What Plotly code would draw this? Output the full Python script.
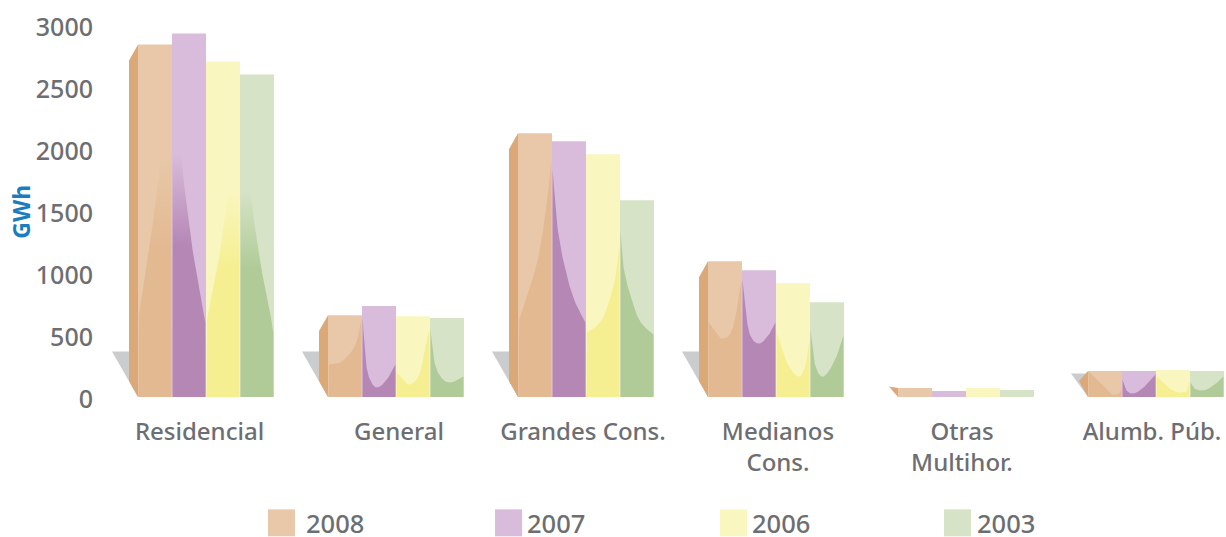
import numpy as np
import plotly.graph_objects as go

categories = ["Residencial", "General", "Grandes Cons.", "Medianos<br>Cons.", "Otras<br>Multihor.", "Alumb. Púb."]
years = ["2008", "2007", "2006", "2003"]
v2008 = [2847, 661, 2129, 1097, 73, 210]
v2007 = [2935, 734, 2065, 1024, 48, 210]
v2006 = [2710, 653, 1960, 919, 73, 218]
v2003 = [2605, 637, 1589, 766, 56, 210]
y_ticks = [0, 500, 1000, 1500, 2000, 2500, 3000]

# level of the darker lower area inside each bar: (fraction across bar, GWh)
wave2008 = [
    [(0, 641), (.37, 1270), (.72, 1915), (1, 1950)],
    [(0, 262), (.35, 278), (.74, 383), (.9, 488), (1, 625)],
    [(0, 609), (.33, 870), (.63, 1165), (.88, 1600), (1, 1900)],
    [(0, 601), (.41, 472), (.72, 544), (.93, 810), (1, 948)],
    None,
    [(0, 206), (.4, 100), (.75, 20), (.9, 20), (1, 60)],
]
wave2007 = [
    [(0, 1970), (.25, 1970), (.3, 1834), (.55, 1294), (.8, 891), (1, 600)],
    [(0, 641), (.05, 440), (.15, 198), (.44, 77), (.74, 141), (1, 262)],
    [(0, 1835), (.12, 1431), (.32, 1109), (.62, 810), (1, 601)],
    [(0, 948), (.08, 730), (.2, 520), (.5, 431), (.8, 504), (1, 601)],
    None,
    [(0, 141), (.1, 60), (.3, 28), (.6, 68), (1, 181)],
]
wave2006 = [
    [(0, 610), (.37, 1108), (.72, 1673), (1, 1673)],
    [(0, 198), (.38, 101), (.72, 198), (.9, 440), (1, 544)],
    [(0, 520), (.25, 560), (.5, 640), (.75, 826), (.9, 1000), (1, 1246)],
    [(0, 520), (.31, 278), (.69, 165), (.9, 278), (1, 464)],
    None,
    [(0, 165), (.35, 77), (.68, 36), (.9, 44), (1, 125)],
]
wave2003 = [
    [(0, 1673), (.28, 1673), (.34, 1560), (.6, 1085), (.85, 762), (1, 512)],
    [(0, 544), (.1, 302), (.3, 165), (.59, 117), (1, 165)],
    [(0, 1351), (.07, 1085), (.27, 843), (.56, 625), (1, 504)],
    [(0, 544), (.12, 278), (.36, 165), (.75, 302), (1, 496)],
    None,
    [(0, 117), (.12, 68), (.35, 52), (.7, 93), (1, 165)],
]

series = [v2008, v2007, v2006, v2003]
waves = [wave2008, wave2007, wave2006, wave2003]
light = ["#E8C8A8", "#D9BCDB", "#FAF6C0", "#D6E3C7"]
dark = ["#E3B992", "#B587B5", "#F5EF91", "#B0CB98"]
dark_rgb = ["227,185,146", "181,135,181", "245,239,145", "176,203,152"]
TEXT = "#6D6E71"
FONT = "Noto Sans"

W, H = 1226, 537
PLOT_LEFT, PLOT_RIGHT, PLOT_TOP, PLOT_BOTTOM = 111, 1226, 20, 397.5
L, R, T, B = PLOT_LEFT, W - PLOT_RIGHT, PLOT_TOP, H - PLOT_BOTTOM
CAT_PX = 190.0
PX_Y = 0.124  # px per GWh
x_range = [-0.5, -0.5 + (PLOT_RIGHT - PLOT_LEFT) / CAT_PX]
y_range = [0, (PLOT_BOTTOM - PLOT_TOP) / PX_Y]
BARGAP = 54 / 190
GROUP = 1 - BARGAP
SLOT = GROUP / 4


def px2paper_x(px):
    return (px - PLOT_LEFT) / (PLOT_RIGHT - PLOT_LEFT)


def px2paper_y(py):
    return (PLOT_BOTTOM - py) / (PLOT_BOTTOM - PLOT_TOP)


def smooth(pts, n=80):
    xs = np.array([p[0] for p in pts], float)
    ys = np.array([p[1] for p in pts], float)
    h = np.diff(xs)
    s = np.diff(ys) / h
    d = np.zeros_like(ys)
    d[0], d[-1] = s[0], s[-1]
    for k in range(1, len(xs) - 1):
        if s[k - 1] * s[k] > 0:
            c = (ys[k + 1] - ys[k - 1]) / (xs[k + 1] - xs[k - 1])
            d[k] = np.sign(c) * min(abs(c), 3 * min(abs(s[k - 1]), abs(s[k])))
    u = np.linspace(0, 1, n)
    idx = np.clip(np.searchsorted(xs, u, side="right") - 1, 0, len(h) - 1)
    t = (u - xs[idx]) / h[idx]
    y = ((2*t**3 - 3*t**2 + 1) * ys[idx] + (t**3 - 2*t**2 + t) * h[idx] * d[idx]
         + (-2*t**3 + 3*t**2) * ys[idx + 1] + (t**3 - t**2) * h[idx] * d[idx + 1])
    return u, y


fig = go.Figure()
for j, year in enumerate(years):
    fig.add_trace(go.Bar(
        x=list(range(len(categories))), y=series[j], name=year,
        marker=dict(color=light[j], line=dict(width=0)), showlegend=False,
    ))

inset = 0.6 / CAT_PX
for j in range(4):
    for i, wave in enumerate(waves[j]):
        if wave is None:
            continue
        u, lev = smooth(wave)
        lev = np.minimum(lev, series[j][i])
        x0 = i - GROUP / 2 + j * SLOT
        xs = x0 + inset + u * (SLOT - 2 * inset)
        xpoly = [xs[0]] + list(xs) + [xs[-1]]
        ypoly = [0] + list(lev) + [0]
        fill = dict(fillcolor=dark[j])
        if i == 0:
            fill = dict(fillgradient=dict(
                type="vertical",
                colorscale=[[0, dark[j]], [0.62, dark[j]], [1, f"rgba({dark_rgb[j]},0)"]],
            ))
        fig.add_trace(go.Scatter(
            x=xpoly, y=ypoly, mode="lines", fill="toself", line=dict(width=0),
            hoverinfo="skip", showlegend=False, **fill,
        ))

# side faces and shadows, in data coordinates from the first series
DEPTH = 9 / CAT_PX
DROP = 16 / PX_Y
shadow_px = [26, 26, 26, 26, 0, 17]
shadow_level = [367, 367, 367, 367, 0, 190]
side_tip = [None, None, None, None, 85, 130]
shapes = []
for i in range(len(categories)):
    x0 = i - GROUP / 2
    if shadow_px[i]:
        s = shadow_px[i] / CAT_PX
        shapes.append(dict(type="path", layer="below", xref="x", yref="y", line_width=0,
                           fillcolor="#CBCCCE",
                           path=f"M{x0 - s},{shadow_level[i]} L{x0},{shadow_level[i]} L{x0},0 Z"))
    top = v2008[i]
    if side_tip[i] is None:
        p = f"M{x0},{top} L{x0 - DEPTH},{top - DROP} L{x0 - DEPTH},{DROP} L{x0},0 Z"
    else:
        p = f"M{x0},{top} L{x0 - DEPTH},{side_tip[i]} L{x0},0 Z"
    shapes.append(dict(type="path", layer="below", xref="x", yref="y", line_width=0,
                       fillcolor="#DBA877", path=p))

# legend
swatch_px = [268, 495, 720, 944]
label_px = [306, 527, 752, 977]
annotations = []
for j, year in enumerate(years):
    shapes.append(dict(type="rect", xref="paper", yref="paper", line_width=0, fillcolor=light[j],
                       x0=px2paper_x(swatch_px[j]), x1=px2paper_x(swatch_px[j] + 27),
                       y0=px2paper_y(537), y1=px2paper_y(510)))
    annotations.append(dict(text=year, xref="paper", yref="paper", showarrow=False,
                            x=px2paper_x(label_px[j]), y=px2paper_y(524), xanchor="left", yanchor="middle",
                            xshift=-2, height=24,
                            font=dict(family=FONT, size=25.5, color=TEXT, weight=500)))
annotations.append(dict(text="GWh", xref="paper", yref="paper", showarrow=False, textangle=-90,
                        x=px2paper_x(21), y=px2paper_y(212), xanchor="center", yanchor="middle",
                        font=dict(family=FONT, size=23, color="#1B7DBE", weight=700)))

label_offset_px = [-6.5, 3, -3, 2, -4, -4]
fig.update_layout(
    width=W, height=H, margin=dict(l=L, r=R, t=T, b=B, autoexpand=False),
    paper_bgcolor="white", plot_bgcolor="white",
    barmode="group", bargap=BARGAP, bargroupgap=0,
    shapes=shapes, annotations=annotations,
    xaxis=dict(range=x_range, tickmode="array",
               tickvals=[i + o / CAT_PX for i, o in enumerate(label_offset_px)],
               ticktext=categories, tickangle=0, showgrid=False, zeroline=False, showline=False,
               ticks="", ticklabelstandoff=18, ticklabeloverflow="allow",
               tickfont=dict(family=FONT, size=24, color=TEXT, weight=500)),
    yaxis=dict(range=y_range, tickmode="array", tickvals=y_ticks, showgrid=False, zeroline=False,
               showline=False, ticks="", ticklabelstandoff=17, ticklabeloverflow="allow",
               ticklabelshift=2,
               tickfont=dict(family=FONT, size=25, color=TEXT, weight=500)),
)
fig.write_html("out.html", post_script="document.body.style.margin='0';",
               config={"displayModeBar": False})
